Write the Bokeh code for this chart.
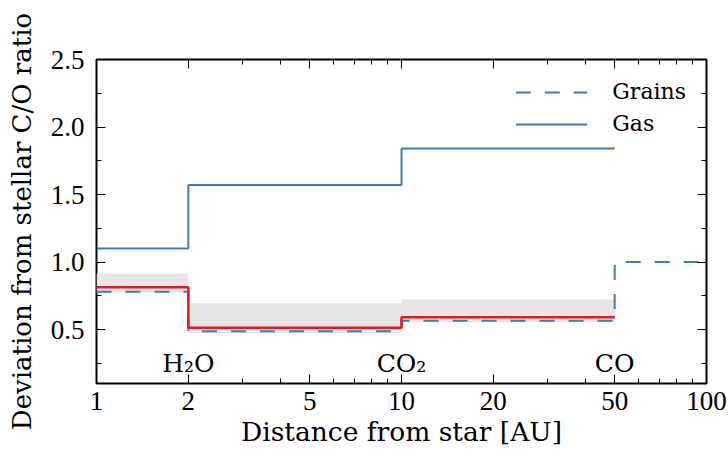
from bokeh.plotting import figure
from bokeh.models import (Range1d, FixedTicker, LogAxis, LinearAxis, PrintfTickFormatter,
                          Legend, LegendItem, Label, CustomLabelingPolicy)
from bokeh.embed import file_html
from bokeh.resources import INLINE

# ---- data ----
edges = [1, 2, 10, 50, 100]
gas = [1.10, 1.57, 1.84]              # segments 1-2, 2-10, 10-50
grains = [0.78, 0.487, 0.564, 1.0]    # segments 1-2, 2-10, 10-50, 50-100
model = [0.813, 0.513, 0.591]         # red line, segments 1-2, 2-10, 10-50
band_lo = [0.772, 0.475, 0.554]
band_hi = [0.913, 0.695, 0.722]
ice_labels = ["H\u2082O", "CO\u2082", "CO"]
ice_lines = [2, 10, 50]
x_ticks = [1, 2, 5, 10, 20, 50, 100]
x_minor = [3, 4, 6, 7, 8, 9, 30, 40, 60, 70, 80, 90]
y_ticks = [0.5, 1.0, 1.5, 2.0, 2.5]
y_minor = [0.25, 0.75, 1.25, 1.75, 2.25]

FONT = "DejaVu Serif"
NUMFONT = "Liberation Serif"
BLUE = "#377eb8"
RED = "#e41a1c"


def step_xy(vals):
    n = len(vals)
    xs = list(edges[:n + 1])
    ys = list(vals) + [vals[-1]]
    return xs, ys


p = figure(width=728, height=456, x_axis_type="log",
           x_range=Range1d(1, 100), y_range=Range1d(0.1, 2.5),
           output_backend="svg", toolbar_location=None,
           min_border_left=96, min_border_right=22, min_border_top=59, min_border_bottom=73)
p.grid.visible = False
p.outline_line_color = "black"
p.outline_line_width = 2
p.background_fill_color = "white"

# band
bx, blo = step_xy(band_lo)
_, bhi = step_xy(band_hi)
p.varea_step(x=bx, y1=blo, y2=bhi, step_mode="after", fill_color="#e6e6e6")

# grains dashed
gx, gy = step_xy(grains)
r_grains = p.step(gx, gy, mode="after", line_color=BLUE, line_width=2, line_dash="15 14")
# gas solid
sx, sy = step_xy(gas)
r_gas = p.step(sx, sy, mode="after", line_color=BLUE, line_width=2)
# model red
mx, my = step_xy(model)
p.step(mx, my, mode="after", line_color=RED, line_width=2.5)

for lab, xv in zip(ice_labels, ice_lines):
    p.add_layout(Label(x=xv, y=0.246, text=lab, text_align="center", text_baseline="alphabetic",
                       text_font=FONT, text_font_size="25px", text_color="black"))

legend = Legend(items=[LegendItem(label="Grains", renderers=[r_grains]),
                       LegendItem(label="Gas", renderers=[r_gas])],
                location="top_right", border_line_alpha=0, background_fill_alpha=0,
                label_text_font=FONT, label_text_font_size="22px", label_text_color="black",
                glyph_width=72, label_standoff=25, spacing=7, margin=10, padding=10)
p.add_layout(legend)


def style(ax):
    ax.axis_line_color = None
    ax.major_tick_in = 9
    ax.major_tick_out = 0
    ax.minor_tick_in = 5
    ax.minor_tick_out = 0
    ax.major_tick_line_color = "black"
    ax.minor_tick_line_color = "black"
    ax.major_label_text_font = NUMFONT
    ax.major_label_text_font_size = "27px"
    ax.major_label_text_color = "black"
    ax.axis_label_text_font = FONT
    ax.axis_label_text_font_size = "26.5px"
    ax.axis_label_text_font_style = "normal"
    ax.axis_label_text_color = "black"


p.xaxis.ticker = FixedTicker(ticks=x_ticks, minor_ticks=x_minor)
p.xaxis.formatter = PrintfTickFormatter(format="%d")
p.xaxis.axis_label = "Distance from star [AU]"
p.yaxis.ticker = FixedTicker(ticks=y_ticks, minor_ticks=y_minor)
p.yaxis.formatter = PrintfTickFormatter(format="%.1f")
p.yaxis.axis_label = "Deviation from stellar C/O ratio"
style(p.xaxis[0])
style(p.yaxis[0])
p.yaxis.axis_label_text_font_size = "26px"
p.xaxis.major_label_standoff = 8
p.xaxis.axis_label_standoff = 3
p.yaxis.major_label_standoff = 12
p.yaxis.axis_label_standoff = 11

hide = "for (const i of indices) { indices.unset(i) }"
top = LogAxis(ticker=FixedTicker(ticks=x_ticks, minor_ticks=x_minor),
              major_label_policy=CustomLabelingPolicy(code=hide))
style(top)
top.major_label_text_font_size = "1px"
top.major_label_standoff = 0
p.add_layout(top, "above")
right = LinearAxis(ticker=FixedTicker(ticks=y_ticks, minor_ticks=y_minor),
                   major_label_policy=CustomLabelingPolicy(code=hide))
style(right)
right.major_label_text_font_size = "1px"
right.major_label_standoff = 0
p.add_layout(right, "right")

open("out.html", "w").write(file_html(p, INLINE))
